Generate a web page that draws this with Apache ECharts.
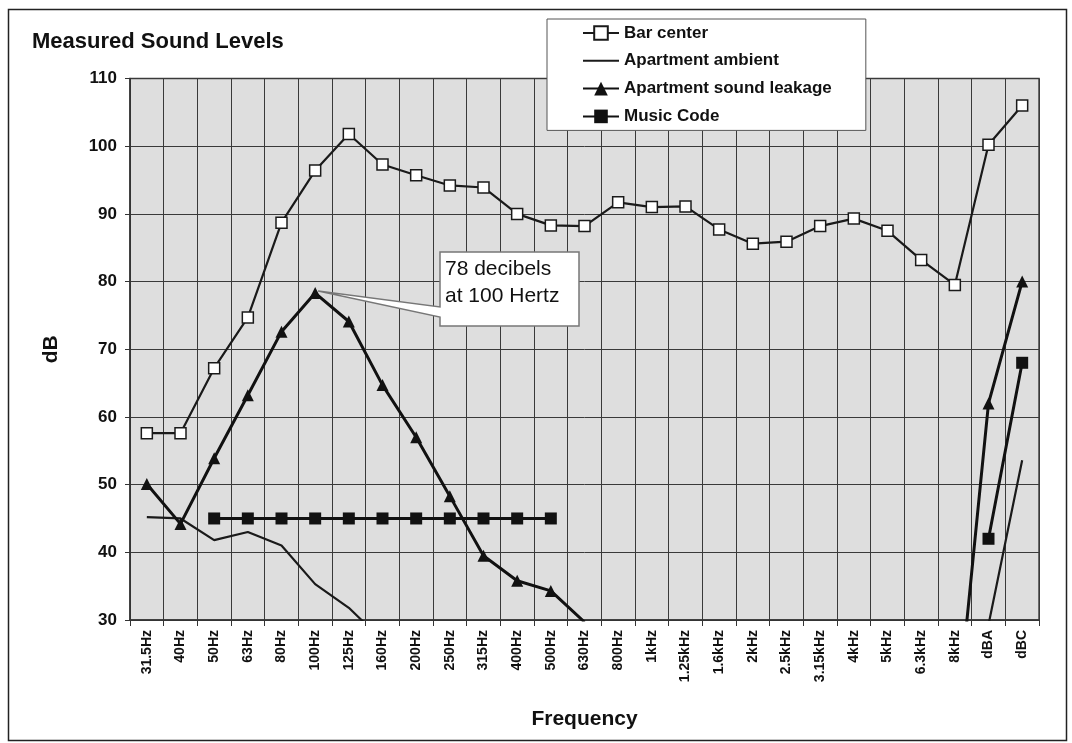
<!DOCTYPE html>
<html>
<head>
<meta charset="utf-8">
<title>Measured Sound Levels</title>
<script src="https://cdn.jsdelivr.net/npm/echarts@6/dist/echarts.min.js"></script>
<style>
  html, body { margin: 0; padding: 0; background: #fff; }
  #main { width: 1072px; height: 743px; }
</style>
</head>
<body>
<div id="main"></div>
<script>
// frequency bands + the two weighted totals
const categories = ['31.5Hz', '40Hz', '50Hz', '63Hz', '80Hz', '100Hz', '125Hz', '160Hz', '200Hz', '250Hz',
  '315Hz', '400Hz', '500Hz', '630Hz', '800Hz', '1kHz', '1.25kHz', '1.6kHz', '2kHz', '2.5kHz',
  '3.15kHz', '4kHz', '5kHz', '6.3kHz', '8kHz', 'dBA', 'dBC'];

const barCenter = [57.6, 57.6, 67.2, 74.7, 88.7, 96.4, 101.8, 97.3, 95.7, 94.2,
  93.9, 90.0, 88.3, 88.2, 91.7, 91.0, 91.1, 87.7, 85.6, 85.9,
  88.2, 89.3, 87.5, 83.2, 79.5, 100.2, 106.0];

// values under 30 dB are cut off by the plot, only the slopes show
const aptAmbient = [45.2, 45.0, 41.8, 43.0, 41.0, 35.3, 31.8, 27.0, null, null,
  null, null, null, null, null, null, null, null, null, null,
  null, null, null, null, null, 29.3, 53.6];

const aptLeakage = [50.1, 44.2, 53.9, 63.2, 72.6, 78.3, 74.1, 64.7, 57.0, 48.3,
  39.5, 35.8, 34.3, 29.7, null, null, null, null, null, null,
  null, null, null, null, 12.0, 62.0, 80.0];

const musicCode = [null, null, 45, 45, 45, 45, 45, 45, 45, 45,
  45, 45, 45, null, null, null, null, null, null, null,
  null, null, null, null, null, 42, 68];

const yTicks = { min: 30, max: 110, step: 10 };

// the note box text and the band it points at
const noteBand = '100Hz';
const noteText = '78 decibels\nat 100 Hertz';

const FONT = 'Liberation Sans, Arial, sans-serif';
const ink = '#111';

const chart = echarts.init(document.getElementById('main'));

const option = {
  animation: false,
  backgroundColor: '#fff',
  textStyle: { fontFamily: FONT },
  title: {
    text: 'Measured Sound Levels',
    left: 27, top: 26,
    textStyle: { fontFamily: FONT, fontSize: 22, fontWeight: 'bold', color: ink }
  },
  legend: {
    orient: 'vertical',
    left: 547, top: 19,
    backgroundColor: '#fff',
    borderColor: '#555',
    borderWidth: 1,
    padding: [4, 34, 4, 35],
    itemWidth: 36,
    itemHeight: 17,
    itemGap: 7.8,
    selectedMode: false,
    textStyle: { fontFamily: FONT, fontSize: 17, fontWeight: 'bold', color: ink, lineHeight: 20 },
    data: [
      'Bar center',
      { name: 'Apartment ambient', itemStyle: { opacity: 0 } },
      'Apartment sound leakage',
      'Music Code'
    ]
  },
  grid: {
    left: 130, right: 33, top: 78.5, bottom: 123,
    show: true,
    backgroundColor: '#dedede',
    borderColor: '#444',
    borderWidth: 1.5
  },
  xAxis: {
    type: 'category',
    data: categories,
    boundaryGap: true,
    name: 'Frequency',
    nameLocation: 'middle',
    nameGap: 89,
    nameTextStyle: { fontFamily: FONT, fontSize: 21, fontWeight: 'bold', color: ink },
    axisLine: { show: true, lineStyle: { color: '#333', width: 1.5 } },
    axisTick: { show: true, interval: 0, length: 6, lineStyle: { color: '#333' } },
    axisLabel: {
      interval: 0, rotate: 90, margin: 10,
      fontFamily: FONT, fontSize: 14, fontWeight: 'bold', color: ink
    },
    splitLine: { show: true, interval: 0, lineStyle: { color: '#3a3a3a', width: 1 } }
  },
  yAxis: {
    type: 'value',
    min: yTicks.min, max: yTicks.max, interval: yTicks.step,
    name: 'dB',
    nameLocation: 'middle',
    nameGap: 68,
    nameTextStyle: { fontFamily: FONT, fontSize: 21, fontWeight: 'bold', color: ink },
    axisLine: { show: true, lineStyle: { color: '#333', width: 1.5 } },
    axisTick: { show: true, length: 5, lineStyle: { color: '#333' } },
    axisLabel: { margin: 13, fontFamily: FONT, fontSize: 17, fontWeight: 'bold', color: ink },
    splitLine: { show: true, lineStyle: { color: '#3a3a3a', width: 1 } }
  },
  series: [
    {
      name: 'Bar center',
      type: 'line',
      data: barCenter,
      symbol: 'rect',
      symbolSize: 11,
      lineStyle: { color: '#1a1a1a', width: 2.2 },
      itemStyle: { color: '#fff', borderColor: '#1a1a1a', borderWidth: 1.5 },
      z: 3
    },
    {
      name: 'Apartment ambient',
      type: 'line',
      data: aptAmbient,
      symbol: 'none',
      lineStyle: { color: '#1a1a1a', width: 2.2 },
      itemStyle: { color: '#1a1a1a' },
      z: 4
    },
    {
      name: 'Apartment sound leakage',
      type: 'line',
      data: aptLeakage,
      symbol: 'triangle',
      symbolSize: 12,
      lineStyle: { color: '#111', width: 3 },
      itemStyle: { color: '#111' },
      z: 5
    },
    {
      name: 'Music Code',
      type: 'line',
      data: musicCode,
      symbol: 'rect',
      symbolSize: 12,
      lineStyle: { color: '#111', width: 3 },
      itemStyle: { color: '#111' },
      z: 6
    }
  ]
};

chart.setOption(option);

// callout box pointing at the leakage peak
function drawCallout() {
  const idx = categories.indexOf(noteBand);
  const tip = chart.convertToPixel({ seriesIndex: 2 }, [idx, aptLeakage[idx]]);
  const bx = 440, by = 252, bw = 139, bh = 74;
  chart.setOption({
    graphic: [
      {
        type: 'rect',
        shape: { x: 8.5, y: 9.5, width: 1058, height: 731 },
        style: { fill: 'none', stroke: '#222', lineWidth: 1.5 },
        silent: true, z: 0
      },
      {
        type: 'polygon',
        shape: {
          points: [
            [tip[0] + 3, tip[1] - 2],
            [bx, by + 55], [bx, by], [bx + bw, by], [bx + bw, by + bh], [bx, by + bh], [bx, by + 65]
          ]
        },
        style: { fill: '#fff', stroke: '#777', lineWidth: 1.5 },
        z: 100
      },
      {
        type: 'text',
        left: bx + 5, top: by + 4,
        style: {
          text: noteText,
          font: '21px ' + FONT,
          lineHeight: 27,
          fill: '#111'
        },
        z: 101
      }
    ]
  });
}
drawCallout();
</script>
</body>
</html>
